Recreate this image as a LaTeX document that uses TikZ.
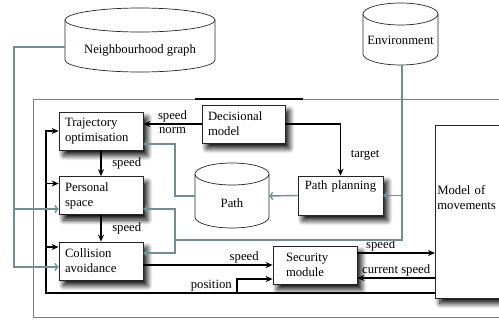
\documentclass[tikz,border=0pt]{standalone}
\usepackage{fontspec}
\setmainfont{Liberation Serif}
\usetikzlibrary{arrows.meta,shadows.blur}

\definecolor{linkgray}{RGB}{112,142,150}
\definecolor{framegray}{RGB}{125,125,125}

\begin{document}
\begin{tikzpicture}[x=1pt, y=-1pt,
  font=\fontsize{12.7pt}{15pt}\selectfont,
  box/.style={draw=black!85, line width=0.7pt, fill=white, align=left,
    inner xsep=6pt, text width=72pt, minimum height=38pt,
    blur shadow={shadow xshift=4.5pt, shadow yshift=-5.5pt, shadow blur steps=10,
      shadow blur radius=5pt, shadow opacity=95}},
  store/.style={draw=black!85, line width=0.7pt, fill=white},
  flow/.style={line width=1.5pt, -{Stealth[length=7pt, width=6pt]}},
  link/.style={draw=linkgray, line width=1.4pt, -{To[length=4pt, width=8pt]}},
  lbl/.style={inner sep=1.5pt},
]
  \useasboundingbox (0,0) rectangle (499,322);

  % outer frame
  \draw[framegray, line width=0.8pt] (33,99) rectangle (530,317);
  \draw[line width=1.5pt] (195,99) -- (303,99);

  % data stores
  \filldraw[store] (65,20) -- (65,60) arc[start angle=180, end angle=360, x radius=75pt, y radius=12pt] -- (215,20);
  \filldraw[store] (140,20) ellipse [x radius=75pt, y radius=12pt];
  \node (nbh) at (140,50) {Neighbourhood graph};
  \coordinate (nbhL) at (65,47);

  \filldraw[store] (363,14) -- (363,54) arc[start angle=180, end angle=360, x radius=37.5pt, y radius=11pt] -- (438,14);
  \filldraw[store] (400.5,14) ellipse [x radius=37.5pt, y radius=11pt];
  \node (env) at (400.5,40) {Environment};
  \coordinate (envB) at (402,65);

  \filldraw[store] (195,174) -- (195,217) arc[start angle=180, end angle=360, x radius=37pt, y radius=11pt] -- (269,174);
  \filldraw[store] (232,174) ellipse [x radius=37pt, y radius=11pt];
  \node (path) at (232,203) {Path};
  \coordinate (pathL) at (195,196);
  \coordinate (pathR) at (269,196);

  % modules
  \node[box] (traj) at (101,131) {Trajectory\\optimisation};
  \node[box] (pers) at (101,195.5) {Personal\\space};
  \node[box] (coll) at (101,261) {Collision\\avoidance};
  \node[box, text width=71pt] (decis) at (243.5,124) {Decisional\\model};
  \node[box, text width=73pt, align=center, minimum height=39pt] (plan) at (340.5,195.5) {Path planning\\[5pt]~};
  \node[box, text width=58pt, inner xsep=13pt] (secu) at (315,265) {Security\\module};
  \node[box, anchor=west, text width=96pt, inner xsep=2pt, minimum height=173pt] (move) at (435,211.5) {Model of\\movements\\[12pt]~};

  % control flow
  \draw[flow] (decis.west) -- (decis.west -| traj.east)
    node[lbl, midway, above] {speed} node[midway, below, inner sep=2.5pt] {norm};
  \draw[flow] (traj) -- (pers) node[lbl, midway, right=9pt] {speed};
  \draw[flow] (pers) -- (coll) node[lbl, midway, right=9pt] {speed};
  \draw[flow] (decis.east) -| (plan.north) node[lbl, pos=0.8, right=8pt] {target};
  \draw[flow] (coll.east |- secu.west) -- (secu.west) node[lbl, pos=0.78, above] {speed};
  \draw[flow] ([yshift=12pt]secu.east) -- ([yshift=12pt]secu.east -| move.west)
    node[lbl, pos=0.3, above] {speed};
  \draw[flow] ([yshift=-13pt]secu.east -| move.west) -- ([yshift=-13pt]secu.east)
    node[lbl, midway, above] {current speed};

  % feedback bus
  \coordinate (bus) at (46,293);
  \coordinate (tap) at (237,293);
  \draw[flow] (move.west |- bus) -- (bus) |- (traj.west);
  \draw[flow] ([yshift=12pt]pers.west -| bus) -- ([yshift=12pt]pers.west);
  \draw[flow] ([yshift=14pt]coll.west -| bus) -- ([yshift=14pt]coll.west);
  \draw[flow] (tap) |- ([yshift=-14pt]secu.west) node[lbl, pos=0, above left, xshift=-3pt] {position};

  % data links
  \coordinate (nl) at (14,209);
  \draw[link] (nbhL) -| (nl) |- ([yshift=-6pt]coll.west);
  \draw[link] (nl) -- ([yshift=-13.5pt]pers.west);

  \coordinate (er) at (402,240);
  \coordinate (el) at (175,240);
  \draw[link, -] (envB) -- (er) -- (el);
  \draw[link] (el) |- ([yshift=-13.5pt]pers.east);
  \draw[link] (el) |- ([yshift=8pt]coll.east);
  \draw[link] (er |- plan.east) -- (plan.east);
  \draw[link] (plan.west) -- (pathR);
  \draw[link] (pathL) -- (pathL -| el) |- ([yshift=-13pt]traj.east);
\end{tikzpicture}
\end{document}
